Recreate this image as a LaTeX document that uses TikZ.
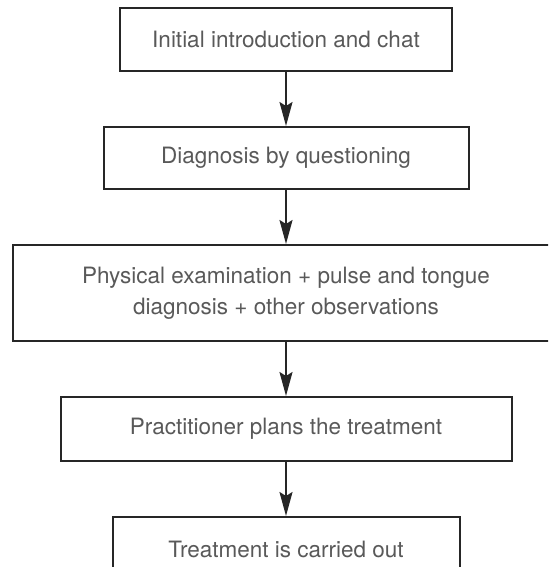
\documentclass[tikz,border=0pt]{standalone}
\usepackage{fontspec}
\setmainfont{TeX Gyre Heros}
\usetikzlibrary{positioning,arrows.meta}
\definecolor{boxline}{gray}{0.15}
\definecolor{boxtext}{gray}{0.35}

\begin{document}
\begin{tikzpicture}[
node distance=27pt,
box/.style={draw=boxline, line width=1pt, fill=white, align=center, text=boxtext, inner sep=0pt, font=\fontsize{11.25pt}{15.5pt}\selectfont},
arrow/.style={-{Stealth[length=12pt, width=6.5pt, inset=2pt]}, line width=1pt, boxline}
]
\useasboundingbox (0,0) rectangle (274pt,-283.5pt);
\clip (0,0) rectangle (274pt,-283.5pt);
\node[box, minimum width=166pt, minimum height=31.5pt] (intro) at (143pt,-19.75pt) {Initial introduction and chat};
\node[box, minimum width=182.5pt, minimum height=31pt, below=of intro] (question) {Diagnosis by questioning};
\node[box, minimum width=273pt, minimum height=48pt, below=of question] (exam) {Physical examination + pulse and tongue\\diagnosis + other observations};
\node[box, minimum width=225.5pt, minimum height=32pt, below=of exam] (plan) {Practitioner plans the treatment};
\node[box, minimum width=173.5pt, minimum height=32pt, below=of plan] (treat) {Treatment is carried out};
\draw[arrow] (intro) -- (question);
\draw[arrow] (question) -- (exam);
\draw[arrow] (exam) -- (plan);
\draw[arrow] (plan) -- (treat);
\end{tikzpicture}
\end{document}
